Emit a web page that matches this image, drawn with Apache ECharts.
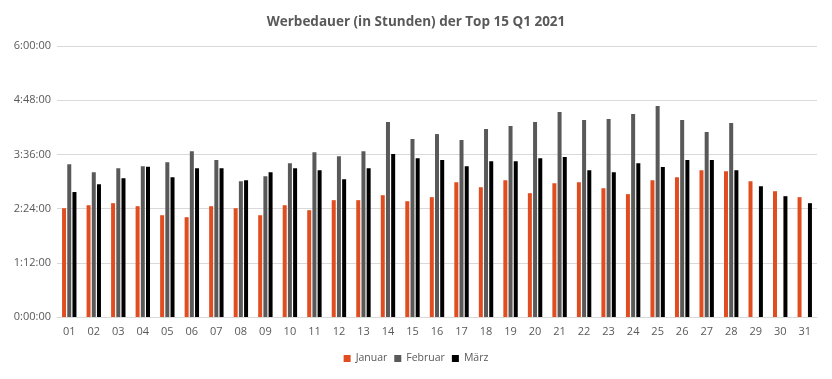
<!DOCTYPE html>
<html><head><meta charset="utf-8">
<script src="https://cdn.jsdelivr.net/npm/echarts@6/dist/echarts.min.js"></script>
<style>html,body{margin:0;padding:0;background:#fff}#c{width:832px;height:379px}</style>
</head><body><div id="c"></div>
<script>
const days = ['01','02','03','04','05','06','07','08','09','10','11','12','13','14','15','16','17','18','19','20','21','22','23','24','25','26','27','28','29','30','31'];
// values in minutes
const januar = [144.5,148.5,151.2,147.2,135.2,132.6,147.2,144.5,135.2,148.5,141.9,155.2,155.2,161.8,153.8,159.2,179.1,172.5,181.8,164.5,177.8,179.1,171.1,163.2,181.8,185.8,195.1,193.7,180.4,167.1,159.2];
const februar = [203,192.4,197.7,200.4,205.7,220.3,208.4,180.4,187.1,204.4,219,213.7,220.3,258.9,236.3,243,235,249.6,253.6,258.9,272.2,261.6,262.9,269.6,280.2,261.6,245.6,257.6,null,null,null];
const maerz = [166,176.5,184.4,199.5,185.8,197.7,197.7,181.8,192.4,197.7,195.1,183.1,197.7,216.4,211,208.4,200.4,207,207,211,212.4,195.1,192.4,204.4,199.1,208.4,208.4,195.1,173.8,160.5,151.2];
const seriesNames = ['Januar','Februar','März'];

function fmt(v){const h=Math.floor(v/60);const m=Math.round(v%60);return h+':'+String(m).padStart(2,'0')+':00';}
const font = '"Open Sans", sans-serif';
const chart = echarts.init(document.getElementById('c'));
chart.setOption({
  animation:false,
  title:{text:'Werbedauer (in Stunden) der Top 15 Q1 2021',left:'center',top:10,
    textStyle:{fontFamily:font,fontSize:13.5,fontWeight:'bold',color:'#595959'}},
  legend:{bottom:10,left:'center',itemWidth:7,itemHeight:7,itemGap:7,icon:'rect',
    textStyle:{fontFamily:font,fontSize:10.5,color:'#595959'},data:seriesNames},
  grid:{left:57,right:15,top:46,bottom:62},
  xAxis:{type:'category',data:days,axisTick:{show:false},
    axisLine:{lineStyle:{color:'#d9d9d9'}},
    axisLabel:{fontFamily:font,fontSize:11,color:'#595959',margin:9,interval:0}},
  yAxis:{type:'value',min:0,max:360,interval:72,
    axisLabel:{formatter:fmt,fontFamily:font,fontSize:11,color:'#595959',margin:6},
    splitLine:{lineStyle:{color:'#d9d9d9'}},axisLine:{show:false},axisTick:{show:false}},
  series:[
    {name:seriesNames[0],type:'bar',data:januar,barWidth:4,barGap:'30%',itemStyle:{color:'#E04D20'}},
    {name:seriesNames[1],type:'bar',data:februar,barWidth:4,barGap:'30%',itemStyle:{color:'#595959'}},
    {name:seriesNames[2],type:'bar',data:maerz,barWidth:4,barGap:'30%',itemStyle:{color:'#000000'}}
  ]
});
</script></body></html>
